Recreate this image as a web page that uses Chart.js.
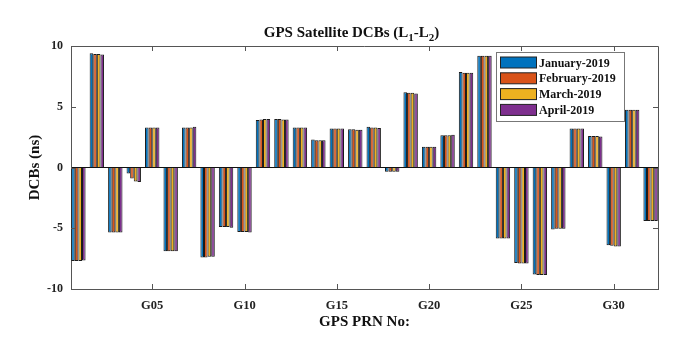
<!DOCTYPE html>
<html>
<head>
<meta charset="utf-8">
<script src="https://cdn.jsdelivr.net/npm/chart.js@4.4.1/dist/chart.umd.min.js"></script>
<style>
  html, body { margin: 0; background: #fff; }
</style>
</head>
<body>
<canvas id="dcbChart" width="681" height="339"></canvas>
<script>
// PRN numbers and monthly DCB values (ns)
const prn = [1, 2, 3, 4, 5, 6, 7, 8, 9, 10, 11, 12, 13, 14, 15, 16,
             17, 18, 19, 20, 21, 22, 23, 24, 25, 26, 27, 28, 29, 30, 31, 32];
const jan = [-7.7, 9.4, -5.35, -0.5, 3.3, -6.9, 3.3, -7.4, -4.9, -5.3, 3.9, 4.0, 3.3, 2.3, 3.2, 3.15,
             3.35, -0.35, 6.2, 1.7, 2.65, 7.85, 9.2, -5.85, -7.85, -8.8, -5.1, 3.2, 2.6, -6.4, 4.75, -4.4];
const feb = [-7.7, 9.35, -5.35, -0.9, 3.3, -6.9, 3.3, -7.4, -4.9, -5.3, 3.95, 4.0, 3.3, 2.25, 3.2, 3.15,
             3.3, -0.35, 6.15, 1.7, 2.65, 7.8, 9.2, -5.85, -7.9, -8.85, -5.05, 3.2, 2.6, -6.45, 4.75, -4.4];
const mar = [-7.7, 9.35, -5.35, -1.15, 3.3, -6.9, 3.3, -7.35, -4.9, -5.3, 4.0, 3.95, 3.3, 2.25, 3.2, 3.1,
             3.3, -0.35, 6.15, 1.7, 2.65, 7.8, 9.2, -5.85, -7.9, -8.85, -5.05, 3.2, 2.6, -6.5, 4.75, -4.4];
const apr = [-7.65, 9.3, -5.35, -1.2, 3.3, -6.9, 3.35, -7.35, -4.95, -5.35, 4.0, 3.95, 3.3, 2.25, 3.2, 3.1,
             3.25, -0.35, 6.1, 1.7, 2.7, 7.8, 9.2, -5.85, -7.9, -8.85, -5.05, 3.2, 2.55, -6.5, 4.75, -4.4];
const seriesNames = ['January-2019', 'February-2019', 'March-2019', 'April-2019'];
const xTicks = [5, 10, 15, 20, 25, 30];
const yTicks = [-10, -5, 0, 5, 10];

const colors = ['#0072BD', '#D95319', '#EDB120', '#7E2F8E'];
const serif = '"Liberation Serif", "Times New Roman", serif';
const series = [jan, feb, mar, apr];

// frame, inward ticks, title with subscripts and the legend box
const extras = {
  id: 'extras',
  afterDraw(chart) {
    const ctx = chart.ctx;
    const a = chart.chartArea;
    const xs = chart.scales.x, ys = chart.scales.y;
    ctx.save();
    ctx.strokeStyle = '#555';
    ctx.lineWidth = 1;
    ctx.beginPath();
    ctx.moveTo(a.left, a.top + 0.5); ctx.lineTo(a.right + 0.5, a.top + 0.5);
    ctx.lineTo(a.right + 0.5, a.bottom);
    xTicks.forEach(v => {
      const px = Math.round(xs.getPixelForValue(v)) + 0.5;
      ctx.moveTo(px, a.bottom); ctx.lineTo(px, a.bottom - 5);
      ctx.moveTo(px, a.top); ctx.lineTo(px, a.top + 5);
    });
    yTicks.forEach(v => {
      const py = Math.round(ys.getPixelForValue(v)) + 0.5;
      ctx.moveTo(a.left, py); ctx.lineTo(a.left + 5, py);
      ctx.moveTo(a.right, py); ctx.lineTo(a.right - 5, py);
    });
    ctx.stroke();

    // title
    const parts = [['GPS Satellite DCBs (L', 0], ['1', 1], ['-L', 0], ['2', 1], [')', 0]];
    const big = 'bold 15px ' + serif, small = 'bold 11px ' + serif;
    let w = 0;
    parts.forEach(p => { ctx.font = p[1] ? small : big; w += ctx.measureText(p[0]).width; });
    let tx = (a.left + a.right) / 2 - 13 - w / 2;
    ctx.fillStyle = '#111';
    ctx.textBaseline = 'alphabetic';
    parts.forEach(p => {
      ctx.font = p[1] ? small : big;
      ctx.fillText(p[0], tx, p[1] ? 41 : 37);
      tx += ctx.measureText(p[0]).width;
    });

    // legend
    const bx = a.right - 162, by = 52, bw = 128, bh = 69;
    ctx.fillStyle = '#fff';
    ctx.fillRect(bx, by, bw, bh);
    ctx.strokeStyle = '#777';
    ctx.strokeRect(bx + 0.5, by + 0.5, bw, bh);
    ctx.font = 'bold 12px ' + serif;
    ctx.textBaseline = 'middle';
    chart.data.datasets.forEach((ds, i) => {
      const cy = by + 10.5 + i * 15.8;
      ctx.fillStyle = ds.backgroundColor;
      ctx.fillRect(bx + 4, cy - 5.5, 37, 11);
      ctx.strokeStyle = '#222';
      ctx.strokeRect(bx + 4.5, cy - 5.5, 36, 11);
      ctx.fillStyle = '#111';
      ctx.fillText(ds.label, bx + 43, cy + 1);
    });
    ctx.restore();
  }
};

new Chart(document.getElementById('dcbChart'), {
  type: 'bar',
  data: {
    datasets: seriesNames.map((name, i) => ({
      label: name,
      data: prn.map((p, j) => ({ x: p, y: series[i][j] })),
      backgroundColor: colors[i],
      borderColor: '#1a1a1a',
      borderWidth: 1,
      barPercentage: 1,
      categoryPercentage: 0.78
    }))
  },
  options: {
    responsive: false,
    devicePixelRatio: 1,
    animation: false,
    layout: { padding: { top: 46, right: 23, left: 0, bottom: 0 } },
    plugins: {
      legend: { display: false },
      title: { display: false },
      tooltip: { enabled: false }
    },
    scales: {
      x: {
        type: 'linear',
        min: 0.6,
        max: 32.4,
        offset: false,
        afterBuildTicks: s => { s.ticks = xTicks.map(v => ({ value: v })); },
        afterFit: s => { s.height = 50; },
        ticks: {
          callback: v => 'G' + String(v).padStart(2, '0'),
          font: { family: serif, size: 12.5, weight: 'bold' },
          color: '#222',
          padding: 9,
          maxRotation: 0,
          autoSkip: false
        },
        grid: { drawOnChartArea: false, drawTicks: false },
        border: { color: '#555' },
        title: {
          display: true,
          text: 'GPS PRN No:',
          font: { family: serif, size: 15, weight: 'bold' },
          color: '#111',
          padding: { top: 0, bottom: 8 }
        }
      },
      y: {
        min: -10,
        max: 10,
        afterBuildTicks: s => { s.ticks = yTicks.map(v => ({ value: v })); },
        afterFit: s => { s.width = 71; },
        ticks: {
          font: { family: serif, size: 12, weight: 'bold' },
          color: '#222',
          padding: 8
        },
        grid: {
          drawTicks: false,
          color: c => (c.tick && c.tick.value === 0 ? '#111' : 'rgba(0,0,0,0)')
        },
        border: { color: '#555' },
        title: {
          display: true,
          text: 'DCBs (ns)',
          font: { family: serif, size: 15, weight: 'bold' },
          color: '#111',
          padding: { top: 26 }
        }
      }
    }
  },
  plugins: [extras]
});
</script>
</body>
</html>
